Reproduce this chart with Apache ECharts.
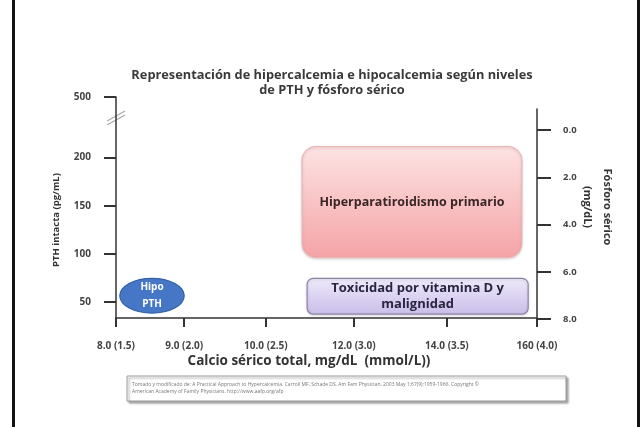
<!DOCTYPE html>
<html><head><meta charset="utf-8">
<script src="https://cdn.jsdelivr.net/npm/echarts@6/dist/echarts.min.js"></script>
<style>html,body{margin:0;padding:0;background:#fff}#c{width:643px;height:427px}</style>
</head><body><div id="c"></div>
<script>
// Calcium tick labels (x axis) and their schematic positions (0-100 along the axis)
const xTickLabels = ['8.0 (1.5)', '9.0 (2.0)', '10.0 (2.5)', '12.0 (3.0)', '14.0 (3.5)', '160 (4.0)'];
const xTickPos = [0, 16.2, 35.6, 56.5, 78.6, 100];
// PTH tick labels (left axis); values above the break are drawn at the axis top
const pthTicks = [50, 100, 150, 200, 500];
const pthMin = 33.6, pthMax = 262.7, pthBreak = 250;
// Phosphorus ticks (right axis, inverted)
const phosTicks = [0, 2, 4, 6, 8];
// Regions: [name, xStart, xEnd, pthLow, pthHigh]
const regionNames = ['Hipo\nPTH', 'Hiperparatiroidismo primario', 'Toxicidad por vitamina D y\nmalignidad'];
const regionX0 = [0.9, 44.2, 45.4];
const regionX1 = [16.2, 96.4, 97.9];
const regionY0 = [38.7, 96.2, 37.7];
const regionY1 = [74.7, 211.3, 74.7];

const chart = echarts.init(document.getElementById('c'));
const FONT = '"Open Sans", "Liberation Sans", sans-serif';
const pthPos = pthTicks.map(v => v > pthBreak ? pthMax : v);

const styles = [
  {kind: 'ellipse', fill: '#4677c6', stroke: '#3562a8', text: '#ffffff', size: 10, lh: 17},
  {kind: 'rect', fill: new echarts.graphic.LinearGradient(0,0,0,1,[{offset:0,color:'#fde3e3'},{offset:1,color:'#f5a3a6'}]), stroke: '#eab7b7', text: '#3a2626', size: 12.5, lh: 16, r: 14},
  {kind: 'rect', fill: new echarts.graphic.LinearGradient(0,0,0,1,[{offset:0,color:'#efeafa'},{offset:1,color:'#c9bde9'}]), stroke: '#8d85a8', text: '#2a2540', size: 13, lh: 16, r: 6}
];

const regionData = regionNames.map((n, i) => [regionX0[i], regionX1[i], regionY0[i], regionY1[i], i]);

chart.setOption({
  animation: false,
  title: {
    text: 'Representación de hipercalcemia e hipocalcemia según niveles\nde PTH y fósforo sérico',
    left: 327, top: 63, textAlign: 'center',
    textStyle: {fontFamily: FONT, fontSize: 12.8, fontWeight: 'bold', color: '#3a3a3a', lineHeight: 15}
  },
  grid: [
    {left: 116, right: 106, top: 97, bottom: 109},
    {left: 116, right: 106, top: 109, bottom: 108}
  ],
  xAxis: [{
    type: 'value', gridIndex: 0, min: 0, max: 100,
    splitLine: {show: false},
    axisLine: {onZero: false, lineStyle: {color: '#333', width: 1.5}},
    axisTick: {show: true, length: 9, customValues: xTickPos, lineStyle: {color: '#333', width: 2}},
    axisLabel: {customValues: xTickPos, margin: 23, fontFamily: FONT, fontSize: 10, fontWeight: 'bold', color: '#444',
      formatter: v => { const i = xTickPos.findIndex(p => Math.abs(p - v) < 1e-6); return i >= 0 ? xTickLabels[i] : ''; }}
  }, {
    type: 'value', gridIndex: 1, min: 0, max: 100, show: false
  }],
  yAxis: [{
    type: 'value', gridIndex: 0, min: pthMin, max: pthMax,
    splitLine: {show: false},
    axisLine: {show: true, onZero: false, lineStyle: {color: '#333', width: 1.5}},
    axisTick: {show: true, length: 12, customValues: pthPos, lineStyle: {color: '#333', width: 2}},
    axisLabel: {customValues: pthPos, margin: 25, fontFamily: FONT, fontSize: 10, fontWeight: 'bold', color: '#444',
      formatter: v => { const i = pthPos.findIndex(p => Math.abs(p - v) < 1e-6); return i >= 0 ? String(pthTicks[i]) : ''; }}
  }, {
    type: 'value', gridIndex: 1, position: 'right', inverse: true, min: -0.9, max: 8,
    splitLine: {show: false},
    axisLine: {show: true, onZero: false, lineStyle: {color: '#333', width: 1.5}},
    axisTick: {show: true, length: 14, customValues: phosTicks, lineStyle: {color: '#333', width: 2}},
    axisLabel: {customValues: phosTicks, margin: 26, fontFamily: FONT, fontSize: 9.5, fontWeight: 'bold', color: '#444',
      formatter: v => v.toFixed(1)}
  }],
  series: [{
    type: 'custom', xAxisIndex: 0, yAxisIndex: 0,
    data: regionData,
    renderItem: (params, api) => {
      const i = api.value(4);
      const p0 = api.coord([api.value(0), api.value(3)]);
      const p1 = api.coord([api.value(1), api.value(2)]);
      const s = styles[i];
      const w = p1[0] - p0[0], h = p1[1] - p0[1];
      const cx = p0[0] + w / 2, cy = p0[1] + h / 2;
      const shape = s.kind === 'ellipse'
        ? {type: 'ellipse', shape: {cx, cy, rx: w / 2, ry: h / 2}, style: {fill: s.fill, stroke: s.stroke, lineWidth: 1.2}}
        : {type: 'rect', shape: {x: p0[0], y: p0[1], width: w, height: h, r: s.r},
           style: {fill: s.fill, stroke: s.stroke, lineWidth: 1.2, shadowBlur: 3, shadowColor: 'rgba(0,0,0,0.15)', shadowOffsetY: 1}};
      return {type: 'group', children: [shape, {
        type: 'text', style: {x: cx, y: cy, text: regionNames[i], align: 'center', verticalAlign: 'middle',
          fill: s.text, font: 'bold ' + s.size + 'px ' + FONT, lineHeight: s.lh}
      }]};
    }
  }],
  graphic: [
    // outer frame sides
    {type: 'rect', shape: {x: 12, y: 0, width: 3, height: 427}, style: {fill: '#111'}},
    {type: 'rect', shape: {x: 637, y: 0, width: 3, height: 427}, style: {fill: '#111'}},
    // axis break marks
    {type: 'line', shape: {x1: 107, y1: 121, x2: 125, y2: 111}, style: {stroke: '#aaa', lineWidth: 1.2}},
    {type: 'line', shape: {x1: 107, y1: 125, x2: 125, y2: 115}, style: {stroke: '#aaa', lineWidth: 1.2}},
    // axis names
    {type: 'text', x: 309, y: 361,
      style: {text: 'Calcio sérico total, mg/dL  (mmol/L))', align: 'center', verticalAlign: 'middle', fill: '#333', font: 'bold 13.5px ' + FONT}},
    {type: 'text', x: 56, y: 220, rotation: Math.PI / 2,
      style: {text: 'PTH intacta (pg/mL)', align: 'center', verticalAlign: 'middle', fill: '#333', font: 'bold 9.5px ' + FONT}},
    {type: 'text', x: 607, y: 207, rotation: -Math.PI / 2,
      style: {text: 'Fósforo sérico', align: 'center', verticalAlign: 'middle', fill: '#333', font: 'bold 11px ' + FONT}},
    {type: 'text', x: 587, y: 207, rotation: -Math.PI / 2,
      style: {text: '(mg/dL)', align: 'center', verticalAlign: 'middle', fill: '#333', font: 'bold 11px ' + FONT}},
    // footnote box
    {type: 'rect', shape: {x: 127, y: 376, width: 439, height: 25},
      style: {fill: '#fff', stroke: '#9a9a9a', lineWidth: 1, shadowBlur: 2, shadowOffsetX: 2, shadowOffsetY: 2, shadowColor: 'rgba(0,0,0,0.35)'}},
    {type: 'text', x: 132, y: 381,
      style: {text: 'Tomado y modificado de: A Practical Approach to Hypercalcemia. Carroll MF, Schade DS. Am Fam Physician. 2003 May 1;67(9):1959-1966. Copyright ©\nAmerican Academy of Family Physicians. http://www.aafp.org/afp',
        fill: '#777', font: '5px ' + FONT, lineHeight: 7}}
  ]
});
</script></body></html>
